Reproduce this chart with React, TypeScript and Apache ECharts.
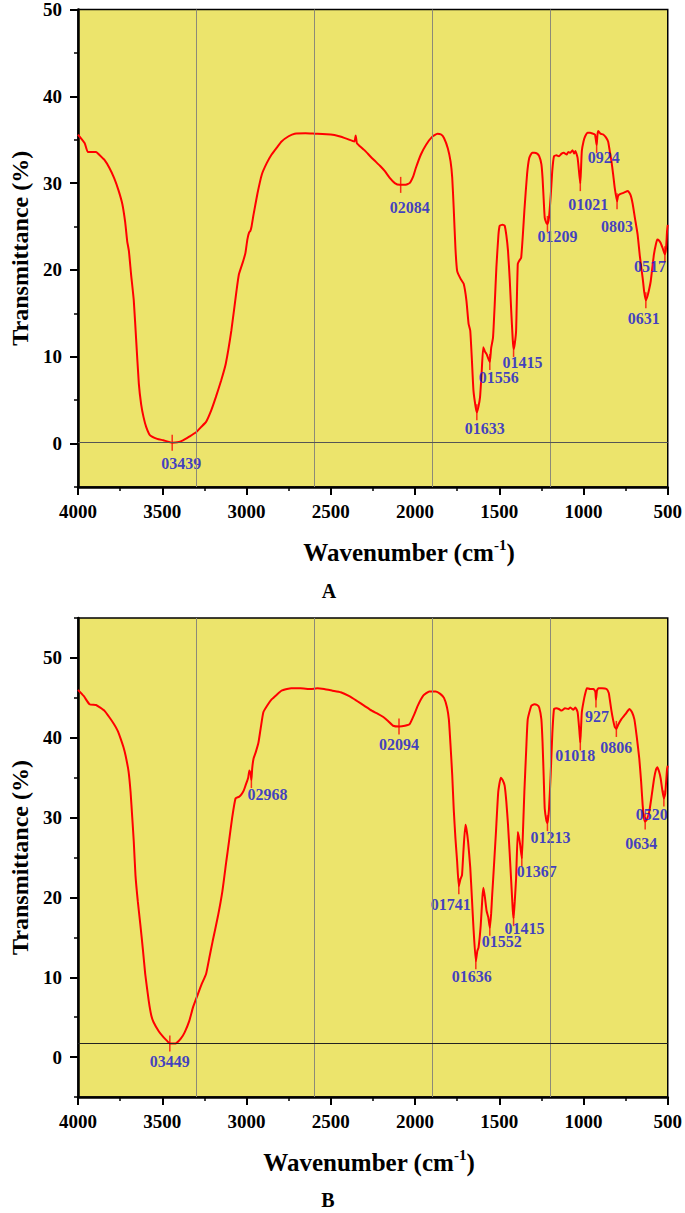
import React, { useEffect, useRef } from "react";
import * as echarts from "echarts";

// ---------------- Panel A data ----------------
const aWavenumber = [
  4000, 3960, 3942, 3893, 3870, 3844, 3815, 3786, 3760, 3737, 3720, 3708, 3698, 3685, 3669, 3655, 3639, 3625, 3611, 3595,
  3572, 3530, 3494, 3441, 3410, 3377, 3340, 3299, 3270, 3240, 3210, 3182, 3150, 3123, 3090, 3060, 3045, 3020, 3006, 2995,
  2985, 2977, 2970, 2958, 2935, 2909, 2880, 2851, 2820, 2792, 2750, 2714, 2650, 2597, 2500, 2450, 2403, 2360, 2352, 2345,
  2335, 2300, 2266, 2240, 2208, 2180, 2150, 2120, 2091, 2060, 2032, 2010, 1994, 1965, 1935, 1900, 1867, 1845, 1828, 1805,
  1789, 1779, 1770, 1760, 1750, 1730, 1711, 1695, 1682, 1672, 1662, 1653, 1640, 1633, 1624, 1614, 1605, 1595, 1585, 1575,
  1565, 1556, 1548, 1537, 1527, 1517, 1505, 1497, 1480, 1468, 1458, 1448, 1438, 1429, 1420, 1415, 1408, 1400, 1390, 1380,
  1370, 1360, 1351, 1335, 1322, 1305, 1292, 1275, 1263, 1250, 1243, 1236, 1230, 1220, 1214, 1205, 1194, 1185, 1175, 1160,
  1146, 1130, 1117, 1100, 1090, 1078, 1065, 1055, 1048, 1035, 1025, 1019, 1015, 1010, 1000, 990, 975, 961, 945, 932,
  922, 917, 912, 900, 883, 868, 854, 845, 834, 824, 815, 801, 795, 786, 760, 737, 720, 708, 695, 679,
  665, 649, 640, 630, 620, 610, 601, 590, 582, 570, 562, 552, 542, 530, 517, 510, 504, 500,
];
const aTransmittance = [
  35.6, 34.6, 33.6, 33.6, 33.2, 32.7, 31.8, 30.6, 29.2, 27.6, 25.5, 23.3, 22.2, 19.5, 16.5, 12.0, 6.9, 4.5, 3.05, 1.9,
  0.95, 0.55, 0.38, 0.1, 0.15, 0.38, 0.8, 1.3, 1.9, 2.5, 3.8, 5.35, 7.3, 9.2, 13.0, 17.5, 19.5, 21.0, 22.0, 23.5,
  24.3, 24.5, 25.0, 26.4, 28.8, 31.0, 32.3, 33.3, 34.1, 34.8, 35.4, 35.7, 35.75, 35.7, 35.6, 35.4, 35.1, 34.8, 35.5, 34.6,
  34.4, 33.8, 33.1, 32.6, 32.0, 31.4, 30.6, 30.0, 29.8, 29.8, 30.0, 30.8, 31.8, 33.3, 34.4, 35.3, 35.7, 35.6, 35.2, 34.0,
  32.5, 30.6, 27.0, 22.5, 19.9, 19.0, 18.4, 16.5, 13.8, 13.0, 9.5, 6.1, 4.2, 3.6, 4.2, 5.35, 8.0, 11.1, 10.6, 10.3,
  9.8, 9.4, 11.0, 12.2, 16.0, 20.3, 24.0, 25.1, 25.2, 25.1, 24.0, 22.2, 19.0, 15.3, 12.0, 10.9, 11.5, 13.0, 20.7, 21.1,
  21.4, 24.0, 26.8, 31.0, 32.9, 33.5, 33.5, 33.4, 33.1, 32.2, 30.6, 28.0, 26.0, 25.4, 25.3, 26.0, 28.7, 31.5, 33.1, 33.2,
  33.1, 33.4, 33.5, 33.3, 33.6, 33.5, 33.8, 33.4, 33.7, 32.9, 31.0, 30.0, 31.5, 33.7, 34.8, 35.4, 35.8, 35.8, 35.7, 35.6,
  34.4, 35.6, 36.0, 35.7, 35.6, 35.3, 34.8, 33.8, 32.5, 31.0, 29.5, 27.9, 28.5, 28.7, 28.9, 29.1, 28.6, 27.6, 26.0, 24.1,
  21.5, 19.1, 17.5, 16.5, 17.0, 17.8, 18.7, 20.5, 21.8, 23.0, 23.5, 23.4, 23.1, 22.5, 21.8, 22.5, 24.5, 25.2,
];
const aPeakWavenumber = [3441, 2085, 1633, 1556, 1415, 1214, 1019, 922, 801, 630, 517];
const aPeakTransmittance = [0.1, 29.8, 3.6, 9.4, 10.9, 25.3, 30.0, 34.4, 27.9, 16.5, 21.8];
const aPeakLabels = ["03439", "02084", "01633", "01556", "01415", "01209", "01021", "0924", "0803", "0631", "0517"];
const aLabelOffsets = [[9, 21], [9, 23], [8, 16], [9, 16], [9, 14], [10, 13], [8, 21], [7, 13], [0, 25], [-2, 18], [-15, 12]];
const aGuideLines = [3300, 2600, 1900, 1200];
const aBaseline = 0.2;

// ---------------- Panel B data ----------------
const bWavenumber = [
  4000, 3965, 3932, 3893, 3870, 3844, 3815, 3786, 3765, 3747, 3730, 3718, 3700, 3688, 3678, 3669, 3659, 3645, 3630, 3615,
  3601, 3580, 3565, 3552, 3520, 3493, 3470, 3455, 3430, 3416, 3390, 3367, 3340, 3318, 3290, 3265, 3240, 3220, 3201, 3170,
  3143, 3120, 3104, 3085, 3065, 3045, 3030, 3016, 3006, 2990, 2983, 2975, 2971, 2966, 2958, 2945, 2929, 2915, 2900, 2875,
  2851, 2820, 2792, 2760, 2734, 2680, 2617, 2580, 2539, 2490, 2441, 2390, 2344, 2300, 2257, 2220, 2188, 2160, 2130, 2091,
  2060, 2032, 2005, 1984, 1950, 1915, 1877, 1850, 1828, 1810, 1799, 1789, 1779, 1770, 1760, 1750, 1740, 1730, 1721, 1712,
  1701, 1695, 1685, 1672, 1662, 1653, 1639, 1630, 1623, 1610, 1600, 1594, 1585, 1575, 1565, 1556, 1548, 1542, 1537, 1520,
  1506, 1491, 1480, 1468, 1458, 1448, 1438, 1429, 1420, 1415, 1408, 1400, 1390, 1383, 1376, 1366, 1358, 1351, 1340, 1331,
  1310, 1292, 1275, 1263, 1250, 1243, 1236, 1230, 1220, 1214, 1205, 1195, 1185, 1175, 1160, 1146, 1130, 1110, 1090, 1078,
  1060, 1048, 1035, 1025, 1019, 1014, 1010, 1000, 990, 980, 960, 941, 930, 926, 920, 912, 890, 863, 850, 844,
  835, 825, 815, 805, 795, 776, 750, 727, 712, 698, 685, 669, 658, 649, 640, 634, 625, 610, 595, 581,
  570, 562, 552, 542, 532, 523, 515, 504, 500,
];
const bTransmittance = [
  46.0, 45.2, 44.2, 44.1, 43.8, 43.4, 42.6, 41.7, 40.9, 39.9, 38.8, 37.8, 35.8, 33.2, 30.0, 27.0, 22.8, 19.5, 16.6, 13.5,
  10.4, 7.0, 5.2, 4.4, 3.2, 2.5, 2.0, 1.7, 1.7, 1.75, 2.3, 3.1, 4.5, 6.2, 7.8, 9.2, 10.4, 12.5, 14.5, 17.6,
  20.8, 24.5, 27.0, 30.0, 32.4, 32.6, 32.9, 33.4, 34.0, 35.0, 35.9, 35.5, 34.7, 36.2, 37.4, 38.2, 39.4, 41.3, 43.2, 44.1,
  44.8, 45.4, 45.9, 46.1, 46.2, 46.2, 46.1, 46.2, 46.1, 45.9, 45.7, 45.2, 44.6, 44.0, 43.4, 43.0, 42.6, 42.1, 41.5, 41.4,
  41.5, 41.7, 42.9, 44.0, 45.3, 45.8, 45.8, 45.5, 45.0, 43.8, 42.3, 39.0, 35.3, 31.0, 27.4, 24.5, 21.4, 22.3, 22.8, 26.0,
  29.1, 28.6, 27.0, 23.7, 19.8, 16.2, 12.0, 13.3, 13.7, 16.5, 20.0, 21.2, 20.0, 18.3, 17.5, 16.2, 18.0, 20.3, 22.0, 28.0,
  33.2, 35.0, 34.7, 34.0, 32.0, 29.1, 25.5, 22.0, 18.5, 17.4, 19.5, 22.4, 28.2, 27.5, 26.6, 24.9, 29.0, 33.2, 38.5, 42.3,
  44.0, 44.2, 44.1, 43.8, 42.3, 39.4, 35.0, 31.1, 29.6, 29.3, 31.0, 35.3, 40.5, 43.6, 43.7, 43.6, 43.4, 43.7, 43.6, 43.8,
  43.5, 43.8, 43.2, 41.0, 39.4, 41.5, 43.2, 44.5, 45.5, 46.2, 46.1, 46.1, 45.8, 44.8, 45.9, 46.2, 46.2, 46.1, 45.6, 44.8,
  43.5, 42.3, 41.4, 41.1, 41.6, 42.3, 43.0, 43.6, 43.2, 42.3, 40.3, 37.4, 34.5, 31.6, 29.8, 29.5, 29.7, 30.7, 32.8, 34.9,
  36.0, 36.3, 35.8, 34.9, 33.4, 32.4, 33.0, 36.1, 36.5,
];
const bPeakWavenumber = [3455, 2971, 2095, 1740, 1639, 1556, 1415, 1366, 1214, 1019, 926, 805, 634, 523];
const bPeakTransmittance = [1.7, 34.7, 41.4, 21.4, 12.0, 16.2, 17.4, 24.9, 29.3, 39.4, 44.8, 41.1, 29.5, 32.4];
const bPeakLabels = ["03449", "02968", "02094", "01741", "01636", "01552", "01415", "01367", "01213", "01018", "927", "0806", "0634", "0520"];
const bLabelOffsets = [[0, 18], [16, 14], [0, 18], [-8, 18], [-4, 15], [12, 14], [11, 10], [15, 13], [3, 14], [-5, 13], [1, 17], [0, 19], [-4, 22], [-12, 16]];
const bGuideLines = [3300, 2600, 1900, 1200];
const bBaseline = 1.7;

const yMajorTicks = [0, 10, 20, 30, 40, 50];
const yMinorTicksA = [-5, 5, 15, 25, 35, 45];
const yMinorTicksB = [-5, 5, 15, 25, 35, 45, 55];

const FONT = "'Liberation Serif', 'Times New Roman', serif";
const BG = "#ece46c";
const RED = "#ff0000";
const BLUE = "#1414d4";

function zip(x: number[], y: number[]) {
  return x.map((v, i) => [v, y[i]]);
}

function buildOption() {
  const grids = [
    { left: 70, top: 8, width: 599, height: 479 },
    { left: 70, top: 618, width: 599, height: 479 },
  ].map((g) => ({ ...g, show: true, backgroundColor: BG, borderColor: "#000", borderWidth: 1.5 }));

  const tickLabel = { fontFamily: FONT, fontWeight: "bold", fontSize: 19, color: "#000" };

  const xAxis = [0, 1].map((i) => ({
    type: "value",
    gridIndex: i,
    min: 500,
    max: 4000,
    interval: 500,
    inverse: true,
    axisLine: { onZero: false, lineStyle: { color: "#000", width: 2.5 } },
    axisTick: { length: 8, lineStyle: { color: "#000", width: 2 } },
    minorTick: { show: true, splitNumber: 2, length: 4, lineStyle: { color: "#000", width: 1.5 } },
    axisLabel: { ...tickLabel, margin: 15, formatter: (v: number) => String(v) },
    splitLine: { show: false },
    minorSplitLine: { show: false },
  }));

  const yAxis: any[] = [];
  [0, 1].forEach((i) => {
    const max = i === 0 ? 50 : 55;
    yAxis.push({
      type: "value",
      gridIndex: i,
      min: -5,
      max,
      position: "left",
      axisLine: { onZero: false, lineStyle: { color: "#000", width: 2.5 } },
      axisTick: { customValues: yMajorTicks, length: 8, lineStyle: { color: "#000", width: 2 } },
      axisLabel: { ...tickLabel, customValues: yMajorTicks, margin: 16, formatter: (v: number) => String(v) },
      splitLine: { show: false },
      name: "Transmittance (%)",
      nameLocation: "middle",
      nameGap: 46,
      nameTextStyle: { fontFamily: FONT, fontWeight: "bold", fontSize: 24, color: "#000" },
    });
    yAxis.push({
      type: "value",
      gridIndex: i,
      min: -5,
      max,
      position: "left",
      axisLine: { show: false, onZero: false },
      axisTick: { customValues: i === 0 ? yMinorTicksA : yMinorTicksB, length: 4, lineStyle: { color: "#000", width: 1.5 } },
      axisLabel: { show: false },
      splitLine: { show: false },
    });
  });

  const panels = [
    { wn: aWavenumber, t: aTransmittance, pw: aPeakWavenumber, pt: aPeakTransmittance, pl: aPeakLabels, off: aLabelOffsets, guides: aGuideLines, base: aBaseline, baseColor: "#555" },
    { wn: bWavenumber, t: bTransmittance, pw: bPeakWavenumber, pt: bPeakTransmittance, pl: bPeakLabels, off: bLabelOffsets, guides: bGuideLines, base: bBaseline, baseColor: "#222" },
  ];

  const series: any[] = [];
  panels.forEach((p, i) => {
    series.push({
      type: "line",
      xAxisIndex: i,
      yAxisIndex: i * 2,
      data: [],
      z: 1,
      markLine: {
        silent: true,
        symbol: ["none", "none"],
        label: { show: false },
        lineStyle: { color: "#8c8a78", width: 1, type: "solid" },
        data: [
          ...p.guides.map((g) => ({ xAxis: g })),
          { yAxis: p.base, lineStyle: { color: p.baseColor, width: 1, type: "solid" } },
        ],
      },
    });
    series.push({
      type: "line",
      xAxisIndex: i,
      yAxisIndex: i * 2,
      data: zip(p.wn, p.t),
      showSymbol: false,
      smooth: 0.15,
      z: 3,
      lineStyle: { color: RED, width: 2 },
    });
    series.push({
      type: "scatter",
      xAxisIndex: i,
      yAxisIndex: i * 2,
      z: 4,
      symbol: "rect",
      symbolSize: [1.5, 16],
      itemStyle: { color: RED },
      data: p.pw.map((w, k) => ({
        value: [w, p.pt[k]],
        name: p.pl[k],
        label: { offset: p.off[k] },
      })),
      label: {
        show: true,
        position: "inside",
        formatter: (d: any) => d.name,
        fontFamily: FONT,
        fontWeight: "bold",
        fontSize: 16,
        color: BLUE,
        align: "center",
        verticalAlign: "middle",
      },
    });
  });

  const titleRich = {
    a: { fontFamily: FONT, fontWeight: "bold", fontSize: 25, color: "#000", lineHeight: 30 },
    s: { fontFamily: FONT, fontWeight: "bold", fontSize: 15, color: "#000", lineHeight: 18, verticalAlign: "top" },
  };

  const graphic = [
    { type: "text", x: 409, y: 552, style: { text: "{a|Wavenumber (cm}{s|-1}{a|)}", rich: titleRich, align: "center", verticalAlign: "middle" } },
    { type: "text", x: 369, y: 1162, style: { text: "{a|Wavenumber (cm}{s|-1}{a|)}", rich: titleRich, align: "center", verticalAlign: "middle" } },
    { type: "text", x: 329, y: 591, style: { text: "A", fontFamily: FONT, fontWeight: "bold", fontSize: 20, fill: "#000", align: "center", verticalAlign: "middle" } },
    { type: "text", x: 328, y: 1200, style: { text: "B", fontFamily: FONT, fontWeight: "bold", fontSize: 20, fill: "#000", align: "center", verticalAlign: "middle" } },
  ];

  return { animation: false, backgroundColor: "#fff", grid: grids, xAxis, yAxis, series, graphic };
}

export default function App() {
  const ref = useRef<HTMLDivElement>(null);
  useEffect(() => {
    document.body.style.margin = "0";
    const chart = echarts.init(ref.current as HTMLDivElement, null, { renderer: "svg" });
    chart.setOption(buildOption() as any);
    return () => chart.dispose();
  }, []);
  return <div ref={ref} style={{ width: 685, height: 1213, position: "absolute", left: 0, top: 0 }} />;
}
